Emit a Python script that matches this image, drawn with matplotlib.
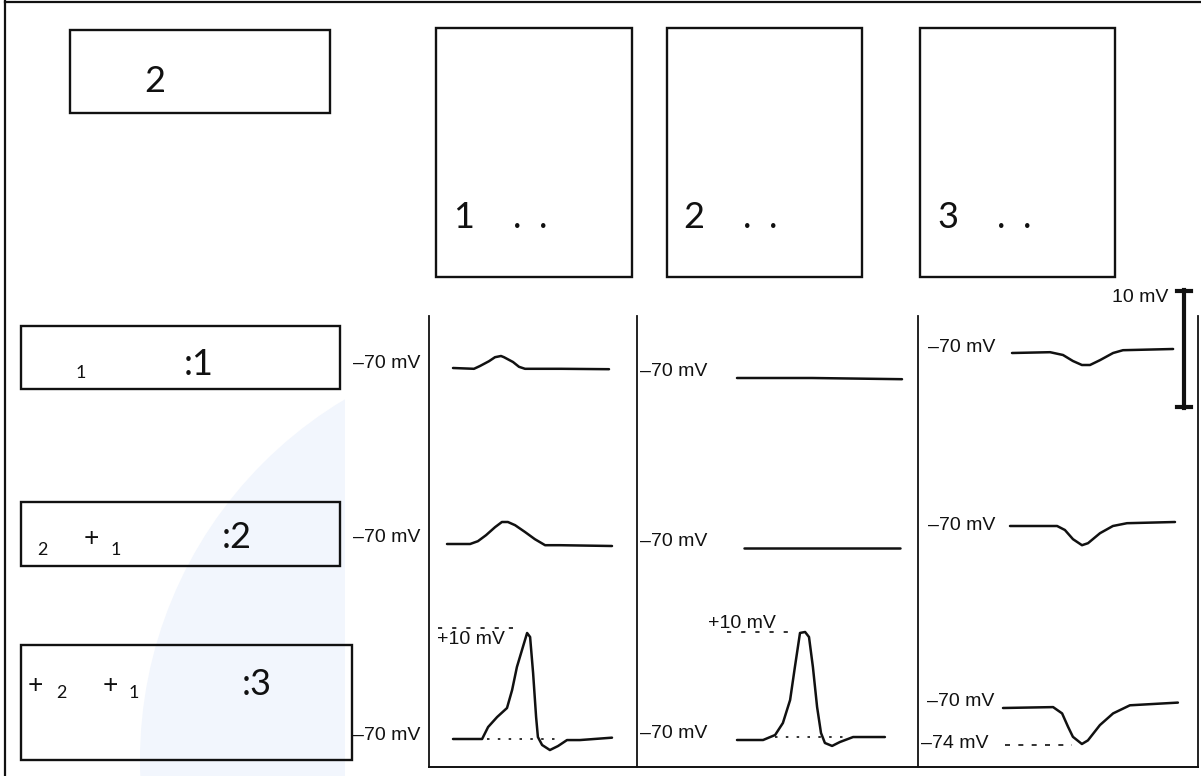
import matplotlib
matplotlib.use("Agg")
import matplotlib.pyplot as plt
from matplotlib.patches import Rectangle, Circle

# ---- trace data: time (ms) / membrane potential (mV) ----
# column 1 (excitatory), rows 1..3
c1r1_t = [0, 7, 9, 12, 14, 16, 17, 20, 22, 24, 36, 52]
c1r1_v = [-70, -70.2, -69.5, -68.3, -67.3, -67.0, -67.3, -68.5, -69.7, -70.2, -70.2, -70.3]
c1r2_t = [0, 7.7, 10.3, 13, 16, 18.3, 20.3, 22.7, 26, 29.3, 32.7, 37.7, 55]
c1r2_v = [-70, -70, -69.3, -67.8, -65.8, -64.5, -64.5, -65.3, -67, -68.8, -70.3, -70.3, -70.5]
c1r3_t = [0, 9.7, 11.7, 14.7, 18, 19.7, 21.3, 23.3, 24.7, 25.7, 26.7, 27.7, 28.3, 29.7, 32.3, 35, 38, 42.3, 53]
c1r3_v = [-70, -70, -61, -53.5, -46.7, -33.2, -15.9, -0.8, 9.7, 6.7, -20.4, -53.5, -68.5, -74.5, -78.3, -75.3, -70.8, -70.8, -69]
# column 2
c2r1_t = [0, 25, 55]
c2r1_v = [-70, -70, -70.3]
c2r2_t = [0, 25, 52]
c2r2_v = [-70, -70, -70]
c2r3_t = [0, 8.7, 12.7, 15.3, 17.7, 19.3, 21, 22.7, 24, 25.3, 26.7, 28, 29.3, 31.7, 34.3, 38.7, 49.3]
c2r3_v = [-70, -70, -66.3, -57.4, -40.4, -15.9, 9.3, 10, 6.3, -15.9, -45.6, -64.8, -72.2, -74.4, -71.5, -67.8, -67.8]
# column 3 (inhibitory)
c3r1_t = [0, 12.7, 17, 20.3, 23.3, 26, 29.3, 33.7, 37, 53.7]
c3r1_v = [-70, -69.8, -70.5, -72, -73, -73, -71.8, -70, -69.3, -69]
c3r2_t = [0, 15.7, 18.3, 21, 24, 26, 30, 34.3, 39, 55]
c3r2_v = [-70, -70, -71, -73.3, -74.8, -74.3, -71.8, -70, -69.3, -69]
c3r3_t = [0, 16.7, 19.7, 21.7, 23.3, 26.3, 28.3, 32.3, 36.7, 42.3, 58.3]
c3r3_v = [-70, -69.9, -70.6, -72.1, -73.2, -74, -73.6, -71.9, -70.6, -69.7, -69.4]

# reference levels drawn as broken lines: (t_start, t_end, mV)
c1r3_rest = (11.3, 35, -70)
c1r3_peak = (-5, 22.3, 13.5)
c2r3_rest = (12.7, 35.3, -68)
c2r3_peak = (-3.3, 19.3, 10)
c3r3_min = (0.7, 23, -74.1)

W, H = 1201, 776
fig = plt.figure(figsize=(W / 100, H / 100), dpi=100)
ax = fig.add_axes([0, 0, 1, 1])
ax.set_xlim(0, W)
ax.set_ylim(H, 0)
ax.axis('off')

ink = '#111111'
box_font = 'Lato'
lab_font = 'Liberation Sans'

# faint watermark
wm = Circle((560, 760), 420, facecolor='#f2f6fd', edgecolor='none', zorder=0)
ax.add_patch(wm)
clip = Rectangle((0, 380), 345, 400, transform=ax.transData)
wm.set_clip_path(clip)

# page frame
ax.plot([5, 5], [0, H], color=ink, lw=1.6)
ax.plot([5, W], [2, 2], color=ink, lw=1.6)

# panel frame lines
for xv in [429, 637, 918, 1198]:
    ax.plot([xv, xv], [316, 767], color=ink, lw=1.3)
ax.plot([429, 1198], [767, 767], color=ink, lw=1.4)

# boxes
boxes = [(70, 30, 260, 83), (436, 28, 196, 249), (667, 28, 195, 249), (920, 28, 195, 249),
         (21, 326, 319, 63), (21, 502, 319, 64), (21, 645, 331, 115)]
for x, y, w, h in boxes:
    ax.add_patch(Rectangle((x, y), w, h, fill=False, edgecolor=ink, lw=1.7, zorder=2))

big = 26
small = 13
plus = 19

# box texts
ax.text(155, 92, '2', fontsize=big, family=box_font, ha='center', va='baseline', color=ink)
for x0, d in [(453, '1'), (683, '2'), (937, '3')]:
    ax.text(x0, 228, d, fontsize=big, family=box_font, ha='left', va='baseline', color=ink)
    ax.text(x0 + 64, 228, '.', fontsize=big, family=box_font, ha='center', va='baseline', color=ink)
    ax.text(x0 + 90, 228, '.', fontsize=big, family=box_font, ha='center', va='baseline', color=ink)

ax.text(184, 375, ':1', fontsize=big, family=box_font, ha='left', va='baseline', color=ink)
ax.text(76, 378, '1', fontsize=small, family=box_font, ha='left', va='baseline', color=ink)
ax.text(222, 548, ':2', fontsize=big, family=box_font, ha='left', va='baseline', color=ink)
ax.text(37, 555, '2', fontsize=small, family=box_font, ha='left', va='baseline', color=ink)
ax.text(84, 546, '+', fontsize=plus, family=box_font, ha='left', va='baseline', color=ink)
ax.text(111, 555, '1', fontsize=small, family=box_font, ha='left', va='baseline', color=ink)
ax.text(242, 695, ':3', fontsize=big, family=box_font, ha='left', va='baseline', color=ink)
ax.text(28, 693, '+', fontsize=plus, family=box_font, ha='left', va='baseline', color=ink)
ax.text(56, 698, '2', fontsize=small, family=box_font, ha='left', va='baseline', color=ink)
ax.text(103, 693, '+', fontsize=plus, family=box_font, ha='left', va='baseline', color=ink)
ax.text(129, 698, '1', fontsize=small, family=box_font, ha='left', va='baseline', color=ink)

# voltage labels
lab = 14
mv = '\u201370 mV'
for x, y in [(353, 363), (353, 537), (353, 735), (640, 372), (640, 542), (640, 733),
             (928, 348), (928, 525), (927, 702)]:
    ax.text(x, y, mv, fontsize=lab, family=lab_font, ha='left', va='center', color=ink)
ax.text(921, 743, '\u201374 mV', fontsize=lab, family=lab_font, ha='left', va='center', color=ink)
ax.text(437, 639, '+10 mV', fontsize=lab, family=lab_font, ha='left', va='center', color=ink)
ax.text(708, 623, '+10 mV', fontsize=lab, family=lab_font, ha='left', va='center', color=ink)
ax.text(1168, 297, '10 mV', fontsize=lab, family=lab_font, ha='right', va='center', color=ink)

# 10 mV scale bar
ax.plot([1184, 1184], [290, 408], color=ink, lw=3)
ax.plot([1177, 1191], [291, 291], color=ink, lw=3)
ax.plot([1177, 1191], [407, 407], color=ink, lw=3)


def trace_axes(x0, ybase, px_per_mv):
    # 3 px per ms horizontally; -70 mV sits at ybase
    top, bot = ybase - 150, ybase + 40
    a = fig.add_axes([x0 / W, 1 - bot / H, 210 / W, (bot - top) / H])
    a.set_xlim(0, 70)
    a.set_ylim(-70 - 40 / px_per_mv, -70 + 150 / px_per_mv)
    a.axis('off')
    a.patch.set_alpha(0)
    return a


def trace(a, t, v):
    a.plot(t, v, color=ink, lw=1.8, solid_joinstyle='round', solid_capstyle='round', clip_on=False)


def ref(a, seg, style):
    t0, t1, lvl = seg
    a.plot([t0, t1], [lvl, lvl], color=ink, lw=1.2, linestyle=style, clip_on=False)


a = trace_axes(453, 368, 4); trace(a, c1r1_t, c1r1_v)
a = trace_axes(447, 544, 4); trace(a, c1r2_t, c1r2_v)
a = trace_axes(453, 739, 1.33); trace(a, c1r3_t, c1r3_v)
ref(a, c1r3_rest, (0, (1.5, 5)))
ref(a, c1r3_peak, (0, (2.5, 6)))

a = trace_axes(737, 378, 4); trace(a, c2r1_t, c2r1_v)
a = trace_axes(744, 548, 4); trace(a, c2r2_t, c2r2_v)
a = trace_axes(737, 740, 1.35); trace(a, c2r3_t, c2r3_v)
ref(a, c2r3_rest, (0, (1.5, 5)))
ref(a, c2r3_peak, (0, (2.5, 6)))

a = trace_axes(1012, 353, 4); trace(a, c3r1_t, c3r1_v)
a = trace_axes(1010, 526, 4); trace(a, c3r2_t, c3r2_v)
a = trace_axes(1003, 708, 9); trace(a, c3r3_t, c3r3_v)
ref(a, c3r3_min, (0, (3, 5)))

fig.savefig('out.png', dpi=100)
